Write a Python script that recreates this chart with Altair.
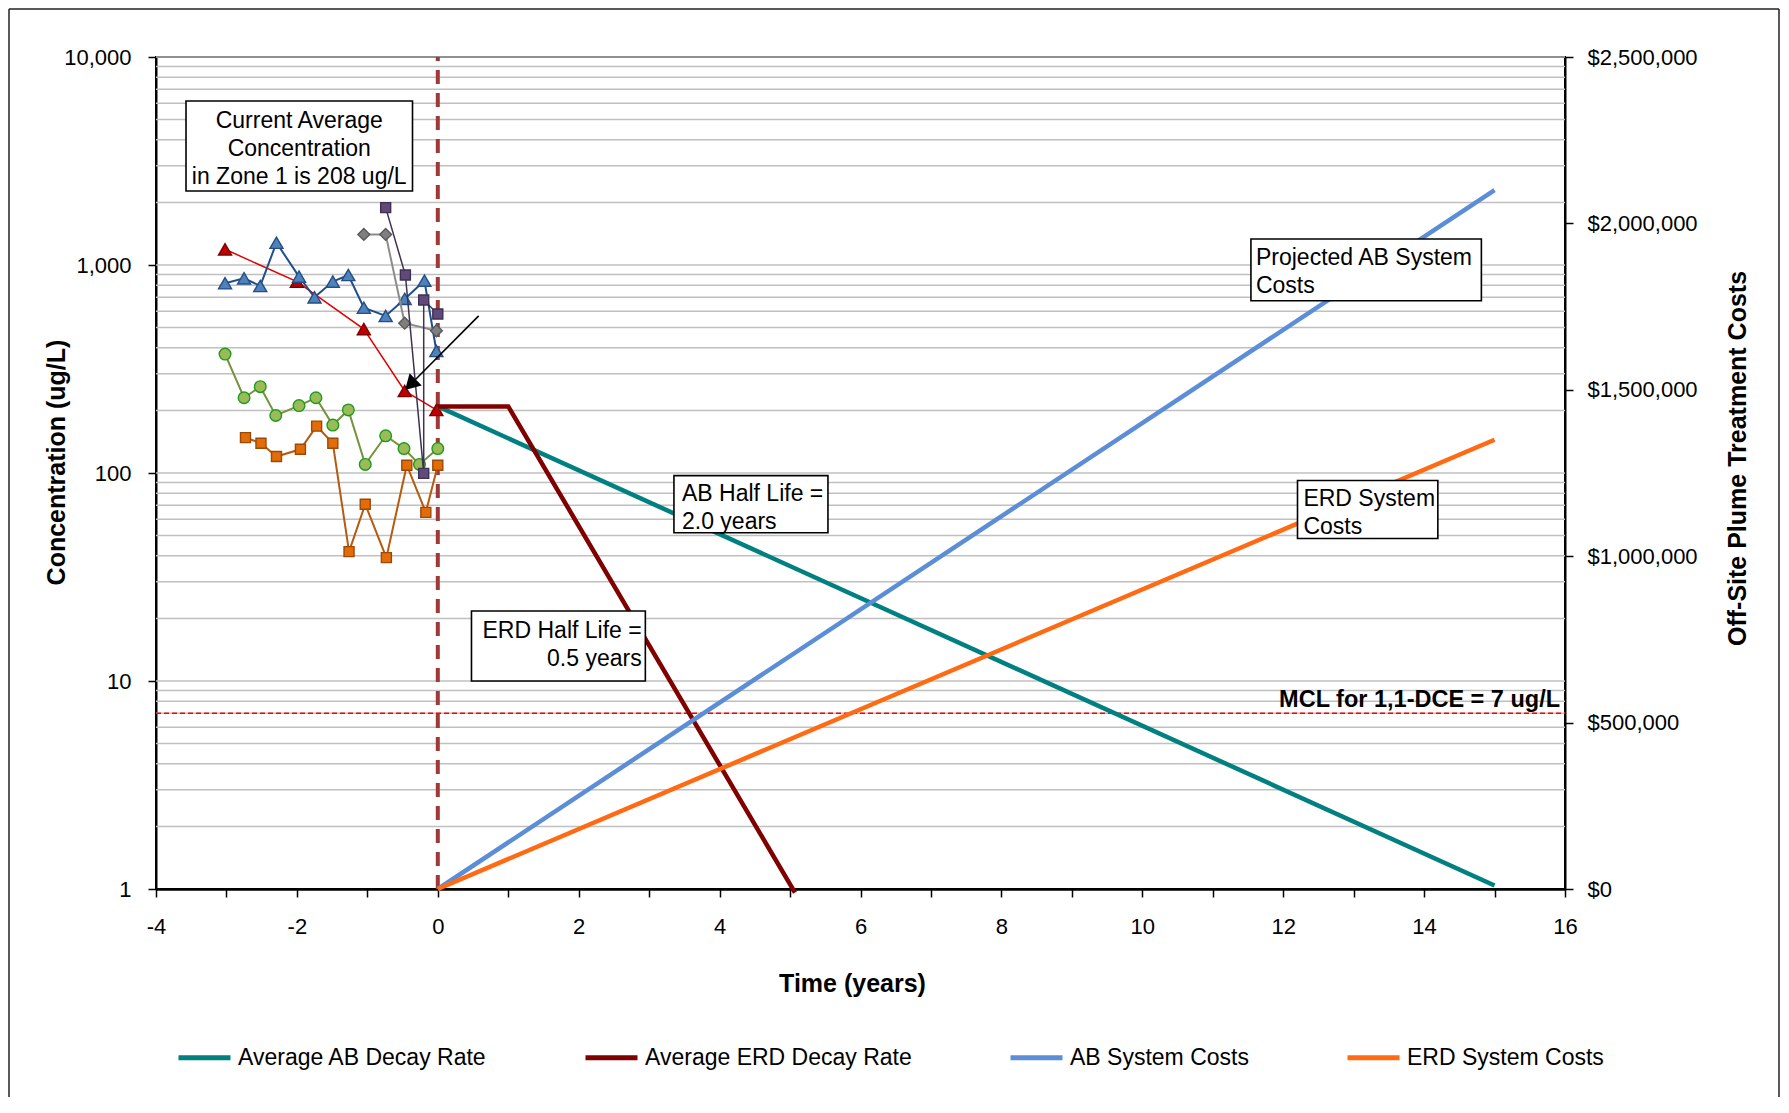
import altair as alt
import pandas as pd

FONT = "Liberation Sans, Arial, Helvetica, sans-serif"
W, H = 1409, 832

# ---------------- data ----------------
series_names = ["Average AB Decay Rate", "Average ERD Decay Rate",
                "AB System Costs", "ERD System Costs"]
series_colors = ["#008080", "#800000", "#5B8ED6", "#FF6A13"]

ab_decay_years = [0, 15]
ab_decay_conc = [209, 1.04]
erd_decay_years = [0, 1, 5.07]
erd_decay_conc = [209, 209, 0.96]

ab_cost_years = [0, 15]
ab_cost_usd = [0, 2100000]
erd_cost_years = [0, 15]
erd_cost_usd = [0, 1350000]

red_years = [-3.02, -2.0, -1.05, -0.47, -0.02]
red_conc = [1190, 832, 492, 248, 201]

blue_years = [-3.02, -2.75, -2.52, -2.29, -1.97, -1.75, -1.49, -1.27, -1.05, -0.74, -0.47, -0.19, -0.02]
blue_conc = [817, 863, 793, 1280, 879, 699, 832, 895, 623, 569, 687, 841, 386]

green_years = [-3.02, -2.75, -2.52, -2.30, -1.97, -1.73, -1.49, -1.27, -1.03, -0.74, -0.48, -0.26, 0.0]
green_conc = [373, 230, 260, 189, 211, 230, 170, 201, 110, 151, 131, 110, 131]

orange_years = [-2.73, -2.51, -2.29, -1.95, -1.72, -1.49, -1.26, -1.03, -0.73, -0.44, -0.17, 0.0]
orange_conc = [148, 139, 120, 130, 168, 139, 41.9, 70.7, 39.2, 109, 64.7, 109]

grey_years = [-1.05, -0.74, -0.47, -0.02]
grey_conc = [1403, 1403, 525, 483]

purple_years = [-0.74, -0.46, -0.20, -0.20, 0.0]
purple_conc = [1888, 895, 99.6, 679, 581]

mcl_conc = [7]
x_ticks = list(range(-4, 17))
y_ticks = [1, 10, 100, 1000, 10000]
grid_conc = [m * 10 ** d for d in range(0, 4) for m in range(1, 10)][1:] + [10000]
cost_ticks = [0, 500000, 1000000, 1500000, 2000000, 2500000]

# annotation boxes (data coordinates)
box_x1 = [-3.574, 11.542, 3.352, 12.203, 0.478]
box_x2 = [-0.359, 14.813, 5.538, 14.195, 2.946]
box_y1 = [2270, 673, 51.6, 48.4, 10.0]
box_y2 = [6142, 1334, 97.1, 92.1, 21.7]

# text anchors: first line of each block
center_text = ["Current Average\nConcentration\nin Zone 1 is 208 ug/L"]
center_text_x = [-1.967]
center_text_y = [4943]

left_texts = ["Projected AB System\nCosts", "AB  Half Life =\n2.0 years", "ERD System\nCosts"]
left_text_x = [11.613, 3.466, 12.287]
left_text_y = [1077, 79.2, 75.3]

right_texts = ["ERD Half Life =\n0.5 years"]
right_text_x = [2.894]
right_text_y = [17.4]

mcl_label = ["MCL for 1,1-DCE = 7 ug/L"]
mcl_label_x = [15.93]

arrow_tail_x, arrow_tail_y = [0.58], [569]
arrow_head_x, arrow_head_y = [-0.384], [267]

# ---------------- scales / axes ----------------
xscale = alt.Scale(domain=[-4, 16], nice=False, zero=False)
ylog = alt.Scale(type="log", domain=[1, 10000], nice=False)
yright = alt.Scale(domain=[0, 2500000], nice=False, zero=True)

x_axis = alt.Axis(
    values=x_ticks, labelExpr="datum.value % 2 == 0 ? '' + datum.value : ''",
    title="Time (years)", grid=False, tickSize=8, tickWidth=1.5, tickColor="black",
    labelPadding=19, labelFontSize=22, labelFont=FONT, labelColor="black",
    labelFlush=False, labelOverlap=False, labelBound=False,
    domainColor="black", domainWidth=2.5,
    titleFont=FONT, titleFontSize=25, titleFontWeight="bold", titleColor="black",
    titleX=696, titleY=94, titleBaseline="middle", titleAlign="center",
)
y_axis = alt.Axis(
    values=y_ticks, format=",", title="Concentration (ug/L)", grid=False,
    tickSize=8, tickWidth=1.5, tickColor="black", labelPadding=17,
    labelFontSize=22, labelFont=FONT, labelColor="black", labelOverlap=False,
    domainColor="black", domainWidth=2,
    titleFont=FONT, titleFontSize=25, titleFontWeight="bold", titleColor="black",
    titleAngle=270, titleX=-100, titleY=405, titleBaseline="middle", titleAlign="center",
)
r_axis = alt.Axis(
    orient="right", values=cost_ticks, format="$,.0f",
    title="Off-Site  Plume Treatment Costs", grid=False,
    tickSize=8, tickWidth=1.5, tickColor="black", labelPadding=14,
    labelFontSize=22, labelFont=FONT, labelColor="black", labelOverlap=False,
    domainColor="black", domainWidth=2,
    titleFont=FONT, titleFontSize=25, titleFontWeight="bold", titleColor="black",
    titleAngle=270, titleX=172, titleY=401, titleBaseline="middle", titleAlign="center",
)

color_scale = alt.Scale(domain=series_names, range=series_colors)
legend = alt.Legend(
    title=None, orient="none", legendX=20, legendY=972, direction="horizontal",
    columns=4, symbolType="stroke", symbolStrokeWidth=5, symbolSize=2704,
    labelFontSize=23, labelFont=FONT, labelColor="black", labelOffset=5,
    labelLimit=400, columnPadding=88, padding=0,
)


def X(f):
    return alt.X(f, type="quantitative", scale=xscale, axis=x_axis)


def YL(f):
    return alt.Y(f, type="quantitative", scale=ylog, axis=y_axis)


def YT(f):
    return alt.Y(f, type="quantitative", scale=ylog, axis=None)


dummy = pd.DataFrame({"a": [0]})

# ---------------- base (left axis) layers ----------------
base_layers = []

frame_color = "#222222"
base_layers.append(alt.Chart(dummy).mark_rule(color=frame_color, strokeWidth=1.5).encode(
    x=alt.value(-147), y=alt.value(-48), y2=alt.value(1040)))
base_layers.append(alt.Chart(dummy).mark_rule(color=frame_color, strokeWidth=1.5).encode(
    x=alt.value(-147), x2=alt.value(1623), y=alt.value(-48)))
base_layers.append(alt.Chart(dummy).mark_rule(color=frame_color, strokeWidth=1.5).encode(
    x=alt.value(1623), y=alt.value(-48), y2=alt.value(1040)))

grid_df = pd.DataFrame({"g": grid_conc})
base_layers.append(alt.Chart(grid_df).mark_rule(color="#C0C0C0", strokeWidth=1.5).encode(
    y=YL("g"), x=alt.value(0), x2=alt.value(W)))

vline_df = pd.DataFrame({"t": [0], "c1": [1], "c2": [10000]})
base_layers.append(alt.Chart(vline_df).mark_rule(
    color="#A03838", strokeWidth=4, strokeDash=[14, 9]).encode(
    x=X("t"), y=YL("c1"), y2="c2"))

mcl_df = pd.DataFrame({"c": mcl_conc})
base_layers.append(alt.Chart(mcl_df).mark_rule(
    color="#FF0000", strokeWidth=1.5, strokeDash=[5, 3]).encode(
    y=YL("c"), x=alt.value(0), x2=alt.value(W)))

hist = [
    (red_years, red_conc, dict(line="#E00000", lw=1.5, shape="triangle-up", fill="#C00000", stroke="#7B0000", size=170)),
    (blue_years, blue_conc, dict(line="#1F4E8C", lw=2, shape="triangle-up", fill="#4F81BD", stroke="#254E82", size=170)),
    (green_years, green_conc, dict(line="#76923C", lw=2, shape="circle", fill="#9BBB59", stroke="#1E9B1E", size=135)),
    (orange_years, orange_conc, dict(line="#B65A0F", lw=2, shape="square", fill="#E36C09", stroke="#9A4A06", size=100)),
    (grey_years, grey_conc, dict(line="#8C8C8C", lw=2, shape="diamond", fill="#7F7F7F", stroke="#595959", size=140)),
    (purple_years, purple_conc, dict(line="#3F3151", lw=1.5, shape="square", fill="#604A7B", stroke="#3F3151", size=100)),
]
for yrs, conc, st in hist:
    df = pd.DataFrame({"t": yrs, "c": conc, "i": list(range(len(yrs)))})
    base_layers.append(alt.Chart(df).mark_line(color=st["line"], strokeWidth=st["lw"]).encode(
        x=X("t"), y=YL("c"), order="i:Q"))
    base_layers.append(alt.Chart(df).mark_point(
        shape=st["shape"], filled=True, fill=st["fill"], stroke=st["stroke"],
        strokeWidth=1.4, size=st["size"], opacity=1).encode(x=X("t"), y=YL("c")))

decay_df = pd.DataFrame({
    "t": ab_decay_years + erd_decay_years,
    "c": ab_decay_conc + erd_decay_conc,
    "s": [series_names[0]] * len(ab_decay_years) + [series_names[1]] * len(erd_decay_years),
})
base_layers.append(alt.Chart(decay_df).mark_line(strokeWidth=4.5).encode(
    x=X("t"), y=YL("c"), color=alt.Color("s:N", scale=color_scale, legend=legend)))

arrow_df = pd.DataFrame({"t1": arrow_tail_x, "c1": arrow_tail_y, "t2": arrow_head_x, "c2": arrow_head_y})
base_layers.append(alt.Chart(arrow_df).mark_rule(color="black", strokeWidth=1.6).encode(
    x=X("t1"), y=YL("c1"), x2="t2", y2="c2"))
base_layers.append(alt.Chart(arrow_df).mark_point(
    shape="triangle-up", filled=True, fill="black", stroke="black", size=190, angle=225, opacity=1).encode(
    x=X("t2"), y=YL("c2")))

base = alt.layer(*base_layers)

# ---------------- cost (right axis) layer ----------------
cost_df = pd.DataFrame({
    "t": ab_cost_years + erd_cost_years,
    "v": ab_cost_usd + erd_cost_usd,
    "s": [series_names[2]] * len(ab_cost_years) + [series_names[3]] * len(erd_cost_years),
})
cost = alt.Chart(cost_df).mark_line(strokeWidth=4.5).encode(
    x=X("t"),
    y=alt.Y("v", type="quantitative", scale=yright, axis=r_axis),
    color=alt.Color("s:N", scale=color_scale, legend=legend),
)

# ---------------- annotations on top ----------------
top_layers = []
box_df = pd.DataFrame({"x1": box_x1, "x2": box_x2, "y1": box_y1, "y2": box_y2})
top_layers.append(alt.Chart(box_df).mark_rect(fill="white", stroke="black", strokeWidth=1.6).encode(
    x=X("x1"), x2="x2", y=YT("y1"), y2="y2"))

tc = pd.DataFrame({"x": center_text_x, "y": center_text_y, "txt": center_text})
top_layers.append(alt.Chart(tc).mark_text(
    align="center", baseline="middle", lineBreak="\n", lineHeight=28,
    font=FONT, fontSize=23, color="black").encode(x=X("x"), y=YT("y"), text="txt:N"))
tl = pd.DataFrame({"x": left_text_x, "y": left_text_y, "txt": left_texts})
top_layers.append(alt.Chart(tl).mark_text(
    align="left", baseline="middle", lineBreak="\n", lineHeight=28,
    font=FONT, fontSize=23, color="black").encode(x=X("x"), y=YT("y"), text="txt:N"))
tr = pd.DataFrame({"x": right_text_x, "y": right_text_y, "txt": right_texts})
top_layers.append(alt.Chart(tr).mark_text(
    align="right", baseline="middle", lineBreak="\n", lineHeight=28,
    font=FONT, fontSize=23, color="black").encode(x=X("x"), y=YT("y"), text="txt:N"))
tm = pd.DataFrame({"x": mcl_label_x, "y": mcl_conc, "txt": mcl_label})
top_layers.append(alt.Chart(tm).mark_text(
    align="right", baseline="alphabetic", dy=-6, font=FONT, fontSize=23.5,
    fontWeight="bold", color="black").encode(x=X("x"), y=YT("y"), text="txt:N"))

top = alt.layer(*top_layers)

chart = alt.layer(base, cost, top).resolve_scale(y="independent").properties(
    width=W, height=H,
    autosize=alt.AutoSizeParams(type="none"),
    padding={"left": 148, "top": 49, "right": 216, "bottom": 208},
    background="white",
).configure_view(stroke="black", strokeWidth=2)

chart.save("out.html", embed_options={"renderer": "svg", "actions": False})
